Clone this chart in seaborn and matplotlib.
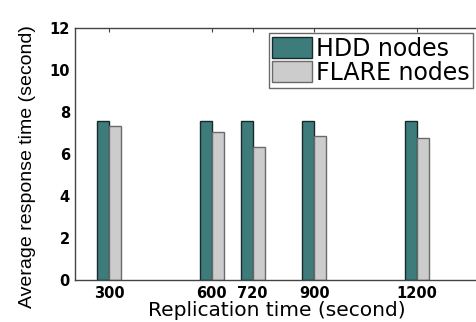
import matplotlib
matplotlib.use("Agg")
import matplotlib.pyplot as plt
import seaborn as sns
import pandas as pd

replication = [300, 600, 720, 900, 1200]
hdd_nodes = [7.55, 7.55, 7.55, 7.55, 7.55]
flare_nodes = [7.35, 7.03, 6.32, 6.84, 6.75]
series = ["HDD nodes", "FLARE nodes"]
colors = ["#3e7c7b", "#cccccc"]
edges = ["#1a2a2a", "#6a6a6a"]

df = pd.DataFrame({
    "x": replication * 2,
    "y": hdd_nodes + flare_nodes,
    "s": [series[0]] * len(replication) + [series[1]] * len(replication),
})

sns.set_style("white")
plt.rcParams["font.family"] = ["DejaVu Sans"]
plt.rcParams["text.color"] = "black"
plt.rcParams["axes.labelcolor"] = "black"
plt.rcParams["xtick.color"] = "black"
plt.rcParams["ytick.color"] = "black"

fig = plt.figure(figsize=(4.77, 3.22), dpi=100)
ax = fig.add_axes([75 / 477, 42 / 322, 410 / 477, 252 / 322])

sns.barplot(data=df, x="x", y="y", hue="s", hue_order=series,
            palette=colors, native_scale=True, width=0.583, dodge=True,
            ax=ax, errorbar=None, saturation=1, linewidth=1.0)

for cont, ec in zip(ax.containers, edges):
    for p in cont:
        p.set_edgecolor(ec)

ax.set_xlim(200, 1400)
ax.set_ylim(0, 12)
ax.set_xticks(replication)
ax.set_xticklabels([str(v) for v in replication], fontsize=10.5, fontweight="bold")
ax.set_yticks(range(0, 13, 2))
ax.set_yticklabels([str(v) for v in range(0, 13, 2)], fontsize=10.5, fontweight="bold")
ax.tick_params(direction="in", length=3, top=True, right=True, width=0.8,
               color="#444444", labelcolor="black")
ax.tick_params(axis="x", pad=4)
ax.tick_params(axis="y", pad=3.6)
for sp in ax.spines.values():
    sp.set_color("#444444")
    sp.set_linewidth(1.0)

ax.set_xlabel("Replication time (second)", fontsize=14.5, color="black")
ax.xaxis.label.set_va("baseline")
ax.xaxis.set_label_coords((277 - 75) / 410, (280 - 316) / 252)

ax.set_ylabel("Average response time (second)", fontsize=14, color="black",
              family=["Liberation Sans", "DejaVu Sans"])
ax.yaxis.label.set_va("center")
ax.yaxis.set_label_coords((28 - 75) / 410, (280 - 167) / 252)

leg = ax.legend(loc="upper right", bbox_to_anchor=(0.971, 0.980),
                borderaxespad=0, fontsize=17, frameon=True, fancybox=False,
                handlelength=1.7, handleheight=0.95, handletextpad=0.15,
                labelspacing=0.0, borderpad=0.15, title=None)
leg.get_frame().set_edgecolor("#444444")
leg.get_frame().set_linewidth(1.0)
for t in leg.get_texts():
    t.set_color("black")
for h, ec in zip(leg.legend_handles, edges):
    h.set_edgecolor(ec)
    h.set_linewidth(1.0)

fig.savefig("out.png", dpi=100)
